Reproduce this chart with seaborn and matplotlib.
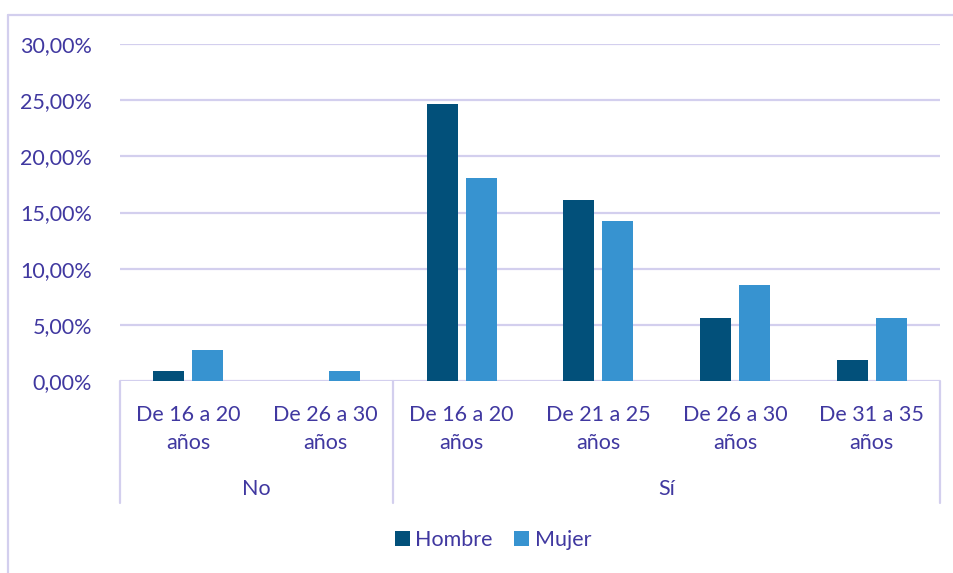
import matplotlib
matplotlib.use("Agg")
import matplotlib.pyplot as plt
import seaborn as sns
import pandas as pd
from matplotlib.lines import Line2D
from matplotlib.patches import Patch

# ---- data ----
groups = ["No", "No", "Sí", "Sí", "Sí", "Sí"]
ages = ["De 16 a 20\naños", "De 26 a 30\naños", "De 16 a 20\naños",
        "De 21 a 25\naños", "De 26 a 30\naños", "De 31 a 35\naños"]
hombre = [0.93, 0.0, 24.70, 16.15, 5.64, 1.87]
mujer = [2.78, 0.93, 18.05, 14.20, 8.52, 5.64]
series = ["Hombre", "Mujer"]
yticks = [0, 5, 10, 15, 20, 25, 30]

colors = {"Hombre": "#02507A", "Mujer": "#3793D0"}
text_color = "#4038A0"
grid_color = "#D3CFEE"

cats = [f"{g}|{i}" for i, g in enumerate(groups)]
rows = []
for c, h, m in zip(cats, hombre, mujer):
    rows.append({"cat": c, "serie": "Hombre", "val": h})
    rows.append({"cat": c, "serie": "Mujer", "val": m})
df = pd.DataFrame(rows)

sns.set_style("white")
plt.rcParams["font.family"] = ["Lato", "DejaVu Sans"]

FS = 15.5
W, H = 954, 573
fig = plt.figure(figsize=(W / 100, H / 100), dpi=100)
ax = fig.add_axes([120 / W, 1 - 381 / H, (940 - 120) / W, (381 - 44) / H])

sns.barplot(data=df, x="cat", y="val", hue="serie", order=cats,
            hue_order=series, palette=colors, width=0.57, gap=0.2,
            saturation=1, ax=ax, legend=False, edgecolor="none")

ax.set_ylim(0, 30)
ax.set_xlim(-0.5, len(cats) - 0.5)
ax.set_yticks(yticks)
ax.set_yticklabels([f"{v:.2f}%".replace(".", ",") for v in yticks],
                   color=text_color, fontsize=FS)
ax.set_xticks(range(len(cats)))
ax.set_xticklabels(ages, color=text_color, fontsize=FS, linespacing=1.5)
ax.tick_params(axis="y", length=0, pad=20)
ax.tick_params(axis="x", length=0, pad=17)
ax.set_xlabel("")
ax.set_ylabel("")
for s in ax.spines.values():
    s.set_visible(False)
ax.set_axisbelow(True)
ax.yaxis.grid(True, color=grid_color, linewidth=1.6)

# group separators and labels
trans = ax.get_xaxis_transform()
ybot = -(503 - 381) / (381 - 44)
for xpos in [-0.5, 1.5, 5.5]:
    ax.add_line(Line2D([xpos, xpos], [0, ybot], transform=trans,
                       color=grid_color, linewidth=1.6, clip_on=False))
ylab = -(489 - 381) / (381 - 44)
ax.text(0.5, ylab, "No", transform=trans, ha="center", va="center",
        color=text_color, fontsize=FS)
ax.text(3.5, ylab, "Sí", transform=trans, ha="center", va="center",
        color=text_color, fontsize=FS)

# outer chart frame (left and top)
fig.add_artist(Line2D([8 / W, 8 / W], [0, 1 - 15 / H], transform=fig.transFigure,
                      color=grid_color, linewidth=1.6))
fig.add_artist(Line2D([8 / W, 1], [1 - 15 / H, 1 - 15 / H], transform=fig.transFigure,
                      color=grid_color, linewidth=1.6))

handles = [Patch(facecolor=colors[s], edgecolor="none") for s in series]
fig.legend(handles, series, loc="center", bbox_to_anchor=(493 / W, 1 - 540 / H),
           ncol=2, frameon=False, fontsize=15.5, labelcolor=text_color,
           handlelength=0.7, handleheight=0.7, handletextpad=0.25,
           columnspacing=1.0)

fig.savefig("out.png", dpi=100)
